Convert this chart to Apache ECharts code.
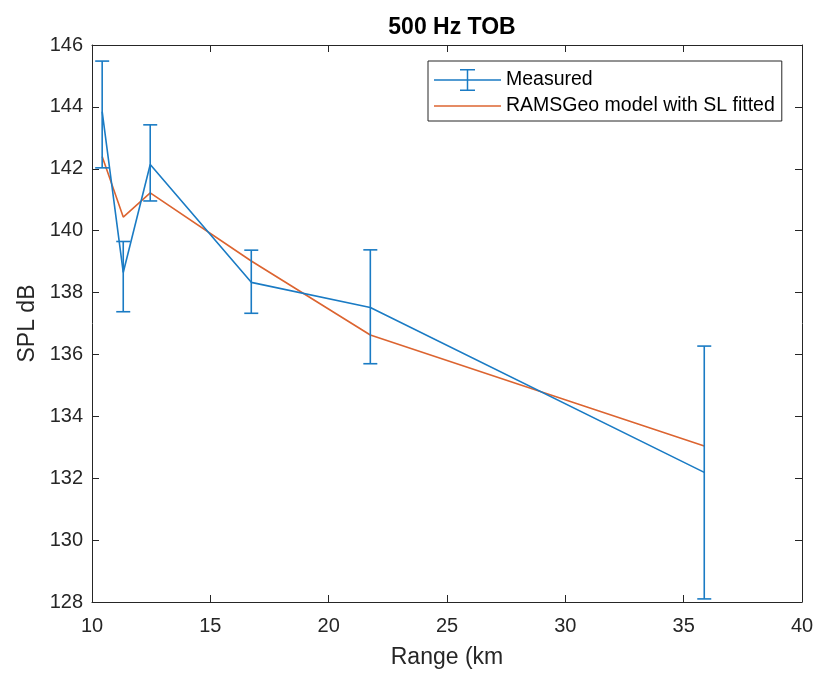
<!DOCTYPE html>
<html><head><meta charset="utf-8">
<script src="https://cdn.jsdelivr.net/npm/echarts@6/dist/echarts.min.js"></script>
<style>html,body{margin:0;padding:0;background:#fff}#c{width:817px;height:674px}</style>
</head><body><div id="c"></div>
<script>
var rangeKm = [10.43, 11.32, 12.46, 16.73, 21.76, 35.87];
var measured = [143.85, 138.65, 142.14, 138.33, 137.52, 132.19];
var errLow = [142.03, 137.38, 140.96, 137.33, 135.70, 128.10];
var errHigh = [145.48, 139.65, 143.42, 139.37, 139.38, 136.27];
var model = [142.40, 140.44, 141.22, 139.02, 136.63, 133.04];
var xTicks = [10, 15, 20, 25, 30, 35, 40];
var yTicks = [128, 130, 132, 134, 136, 138, 140, 142, 144, 146];

var FONT = 'Liberation Sans, Arial, Helvetica, sans-serif';
var BLUE = '#1a7bc4', ORANGE = '#dc6430', AX = '#262626';

var chart = echarts.init(document.getElementById('c'));
var measData = rangeKm.map(function (x, i) { return [x, measured[i]]; });
var modelData = rangeKm.map(function (x, i) { return [x, model[i]]; });
var errData = rangeKm.map(function (x, i) { return [x, errLow[i], errHigh[i]]; });

function axisCommon(show) {
  return {
    axisLine: { show: true, onZero: false, lineStyle: { color: AX, width: 1 } },
    axisTick: { show: true, inside: true, length: 7, lineStyle: { color: AX } },
    axisLabel: { show: show, color: AX, fontFamily: FONT, fontSize: 20 },
    splitLine: { show: false }
  };
}

chart.setOption({
  backgroundColor: '#fff',
  animation: false,
  title: {
    text: '500 Hz TOB', left: 447, top: 11, textAlign: 'center',
    textStyle: { fontFamily: FONT, fontSize: 23, fontWeight: 'bold', color: '#000' }
  },
  grid: { left: 92, right: 15, top: 45, bottom: 70 },
  legend: {
    orient: 'vertical', left: 428, top: 61,
    padding: [8, 7, 5, 6], itemGap: 5,
    itemWidth: 67, itemHeight: 22,
    borderColor: '#262626', borderWidth: 1, backgroundColor: '#fff',
    textStyle: { fontFamily: FONT, fontSize: 19.5, color: '#000' },
    data: [
      { name: 'Measured', icon: 'path://M0,10.25h67v1.5h-67zM32.75,0h1.5v22h-1.5zM26,0h15v1.5h-15zM26,20.5h15v1.5h-15z', itemStyle: { color: BLUE } },
      { name: 'RAMSGeo model with SL fitted', icon: 'path://M0,10.25h67v1.5h-67z', itemStyle: { color: ORANGE } }
    ]
  },
  xAxis: [
    Object.assign({}, axisCommon(true), {
      type: 'value', min: 10, max: 40, interval: 5,
      name: 'Range (km', nameLocation: 'middle', nameGap: 44,
      nameTextStyle: { fontFamily: FONT, fontSize: 23, color: AX },
      axisLabel: { show: true, color: AX, fontFamily: FONT, fontSize: 20, margin: 14 }
    }),
    Object.assign({}, axisCommon(false), { type: 'value', position: 'top', min: 10, max: 40, interval: 5 })
  ],
  yAxis: [
    Object.assign({}, axisCommon(true), {
      type: 'value', min: 128, max: 146, interval: 2,
      name: 'SPL dB', nameLocation: 'middle', nameGap: 50,
      nameTextStyle: { fontFamily: FONT, fontSize: 23, color: AX },
      axisLabel: { show: true, color: AX, fontFamily: FONT, fontSize: 20, margin: 9 }
    }),
    Object.assign({}, axisCommon(false), { type: 'value', position: 'right', min: 128, max: 146, interval: 2 })
  ],
  series: [
    {
      name: 'Measured', type: 'line', data: measData, symbol: 'none',
      lineStyle: { color: BLUE, width: 1.6 }, itemStyle: { color: BLUE }, z: 3
    },
    {
      name: 'Measured error', type: 'custom', data: errData, z: 4,
      renderItem: function (params, api) {
        var x = api.value(0);
        var lo = api.coord([x, api.value(1)]);
        var hi = api.coord([x, api.value(2)]);
        var hw = 7;
        var st = { stroke: BLUE, lineWidth: 1.6 };
        return {
          type: 'group',
          children: [
            { type: 'line', shape: { x1: lo[0], y1: lo[1], x2: hi[0], y2: hi[1] }, style: st },
            { type: 'line', shape: { x1: lo[0] - hw, y1: lo[1], x2: lo[0] + hw, y2: lo[1] }, style: st },
            { type: 'line', shape: { x1: hi[0] - hw, y1: hi[1], x2: hi[0] + hw, y2: hi[1] }, style: st }
          ]
        };
      }
    },
    {
      name: 'RAMSGeo model with SL fitted', type: 'line', data: modelData, symbol: 'none',
      lineStyle: { color: ORANGE, width: 1.6 }, itemStyle: { color: ORANGE }, z: 2
    }
  ]
});
</script></body></html>
